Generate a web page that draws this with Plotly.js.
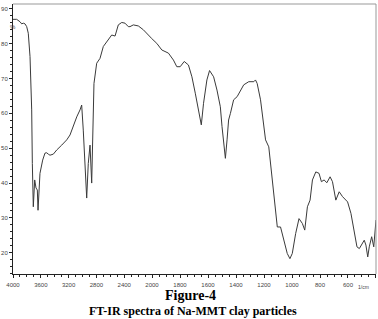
<!DOCTYPE html>
<html>
<head>
<meta charset="utf-8">
<script src="https://cdn.plot.ly/plotly-3.0.1.min.js"></script>
<style>html,body{margin:0;padding:0;background:#fff;}#chart{width:378px;height:319px;}</style>
</head>
<body>
<div id="chart"></div>
<script>
// Wavenumber (cm-1), high region 4000-2000 (compressed scale)
const wnHigh = [4000,3947,3899,3875,3852,3827,3803,3780,3755,3741,3731,3722,3708,3688,3669,3650,3640,3612,3573,3540,3515,3492,3468,3420,3371,3299,3227,3180,3155,3083,3036,3012,2989,2964,2940,2917,2892,2868,2850,2835,2796,2748,2701,2629,2580,2532,2485,2436,2389,2341,2317,2269,2197,2125,2053,2000];
const tHigh = [87.0,87.0,86.3,85.7,85.9,85.7,84.9,83.0,76.3,68.7,61.0,45.6,33.2,40.9,38.6,38.0,32.2,42.8,46.6,48.6,48.7,48.3,48.0,48.3,49.5,50.9,52.4,53.8,55.2,59.0,61.0,62.4,55.2,45.7,35.7,45.6,50.9,40.0,52.0,68.6,74.4,75.8,79.2,81.1,82.5,82.2,85.4,86.1,85.9,84.9,84.9,85.4,85.1,84.0,82.5,81.4];
// Wavenumber (cm-1), low region 2000-400 (expanded scale)
const wnLow = [2000,1966,1930,1883,1847,1823,1799,1770,1740,1715,1691,1668,1648,1632,1608,1589,1560,1536,1512,1500,1489,1476,1464,1453,1440,1417,1392,1369,1345,1309,1273,1261,1249,1225,1201,1189,1166,1141,1117,1105,1082,1058,1034,1015,998,974,950,926,909,890,871,854,830,807,790,771,751,728,711,687,663,639,603,579,556,536,519,495,484,472,459,448,431,416,407,400];
const tLow = [81.4,80.1,78.2,77.3,75.3,73.4,73.4,74.9,73.9,70.5,65.8,61.0,56.7,62.9,69.6,72.3,70.5,66.7,61.9,56.2,52.4,47.1,52.4,58.1,60.0,63.9,64.8,66.7,68.2,69.1,69.1,69.6,68.6,63.9,57.2,52.4,50.4,40.9,31.3,27.4,27.4,23.6,19.8,18.3,19.8,25.5,29.8,28.4,26.5,33.2,35.1,40.9,43.2,42.8,40.4,40.9,40.1,41.8,40.4,35.1,37.5,36.1,34.6,31.3,26.5,21.7,21.2,22.6,23.6,22.2,18.8,21.7,24.6,21.7,26.5,29.4];
const ticksHigh = [4000,3600,3200,2800,2400];
const ticksLow = [2000,1800,1600,1400,1200,1000,800,600,400];
const yTicks = [20,30,40,50,60,70,80,90];

const lineStyle = {color:'#3a3a3a', width:1};
const traces = [
  {x: wnHigh, y: tHigh, xaxis:'x', yaxis:'y', mode:'lines', line: lineStyle, hoverinfo:'skip'},
  {x: wnLow, y: tLow, xaxis:'x2', yaxis:'y', mode:'lines', line: lineStyle, hoverinfo:'skip'}
];
const tickFont = {family:'Liberation Sans, Arial, sans-serif', size:6, color:'#444'};
const xCommon = {
  showline:true, linecolor:'#222', linewidth:1, ticks:'outside', ticklen:3, tickcolor:'#222',
  showgrid:false, zeroline:false, tickfont: tickFont, anchor:'y', ticklabelstandoff:2
};
const layout = {
  width:378, height:319,
  margin:{l:13, r:2, t:4, b:45},
  paper_bgcolor:'#fff', plot_bgcolor:'#fff',
  showlegend:false,
  xaxis: Object.assign({}, xCommon, {domain:[0,0.383], range:[4000,2000], tickmode:'array', tickvals:ticksHigh, ticktext:ticksHigh.map(String), minor:{dtick:100, ticks:'outside', ticklen:2, tickcolor:'#222', showgrid:false}}),
  xaxis2: Object.assign({}, xCommon, {domain:[0.383,1], range:[2000,400], tickmode:'array', tickvals:ticksLow, ticktext:ticksLow.map(String), minor:{dtick:50, ticks:'outside', ticklen:2, tickcolor:'#222', showgrid:false}}),
  yaxis: {range:[13.9,91.4], showline:true, linecolor:'#222', linewidth:1, ticks:'outside', ticklen:3, tickcolor:'#222',
    tickmode:'array', tickvals:yTicks, ticktext:yTicks.map(String), showgrid:false, zeroline:false, tickfont:tickFont,
    minor:{dtick:2, ticks:'outside', ticklen:2, tickcolor:'#222', showgrid:false}},
  shapes:[
    {type:'line', xref:'paper', yref:'paper', x0:0, x1:1, y0:1, y1:1, line:{color:'#999', width:1}},
    {type:'line', xref:'paper', yref:'paper', x0:1, x1:1, y0:0, y1:1, line:{color:'#999', width:1}}
  ],
  annotations:[
    {text:'%', xref:'paper', yref:'y', x:-0.014, y:84.8, showarrow:false, font:{family:'Liberation Sans, Arial, sans-serif', size:6, color:'#444'}},
    {text:'1/cm', xref:'paper', yref:'paper', x:0.985, y:-0.068, showarrow:false, font:{family:'Liberation Sans, Arial, sans-serif', size:5, color:'#444'}},
    {text:'<b>Figure-4</b>', xref:'paper', yref:'paper', x:0.49, y:-0.045, yanchor:'top', showarrow:false, font:{family:'Liberation Serif, Times New Roman, serif', size:14, color:'#000'}},
    {text:'<b>FT-IR spectra of Na-MMT clay particles</b>', xref:'paper', yref:'paper', x:0.495, y:-0.102, yanchor:'top', showarrow:false, font:{family:'Liberation Serif, Times New Roman, serif', size:12, color:'#000'}}
  ]
};
Plotly.newPlot('chart', traces, layout, {displayModeBar:false, staticPlot:true});
</script>
</body>
</html>
